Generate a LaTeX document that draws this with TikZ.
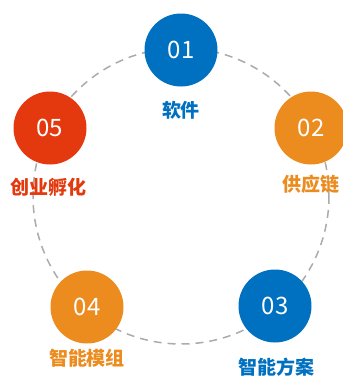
\documentclass[tikz,border=0pt]{standalone}
\usepackage{fontspec}
\setmainfont{Noto Sans CJK SC}
\definecolor{cblue}{HTML}{0070C0}
\definecolor{corange}{HTML}{EC8C1E}
\definecolor{cred}{HTML}{E4390E}
\definecolor{cgray}{HTML}{ABABAB}
\begin{document}
\begin{tikzpicture}[x=1pt,y=-1pt,
  ball/.style={circle,minimum size=73pt,inner sep=0pt,fill=#1,text=white,font=\fontsize{24}{24}\selectfont},
  lbl/.style={text=#1,font=\fontsize{19}{19}\selectfont\bfseries,inner sep=0pt}]
\useasboundingbox (0,0) rectangle (343,376);
\fill[white] (0,0) rectangle (343,376);
\coordinate (ctr) at (181,196);
\draw[cgray,line width=1.5pt,dash pattern=on 8pt off 6pt] (ctr) circle[radius=148];
\node[ball=cblue] (n1) at (181,50) {01};
\node[ball=corange] (n2) at (311,128) {02};
\node[ball=cblue] (n3) at (275,306) {03};
\node[ball=corange] (n4) at (87,307) {04};
\node[ball=cred] (n5) at (50,128) {05};
\node[lbl=cblue] (l1) at (181,110) {软件};
\node[lbl=corange] (l2) at (311,184) {供应链};
\node[lbl=cblue] (l3) at (277,367) {智能方案};
\node[lbl=corange] (l4) at (87,358) {智能模组};
\node[lbl=cred] (l5) at (49,187) {创业孵化};
\end{tikzpicture}
\end{document}
